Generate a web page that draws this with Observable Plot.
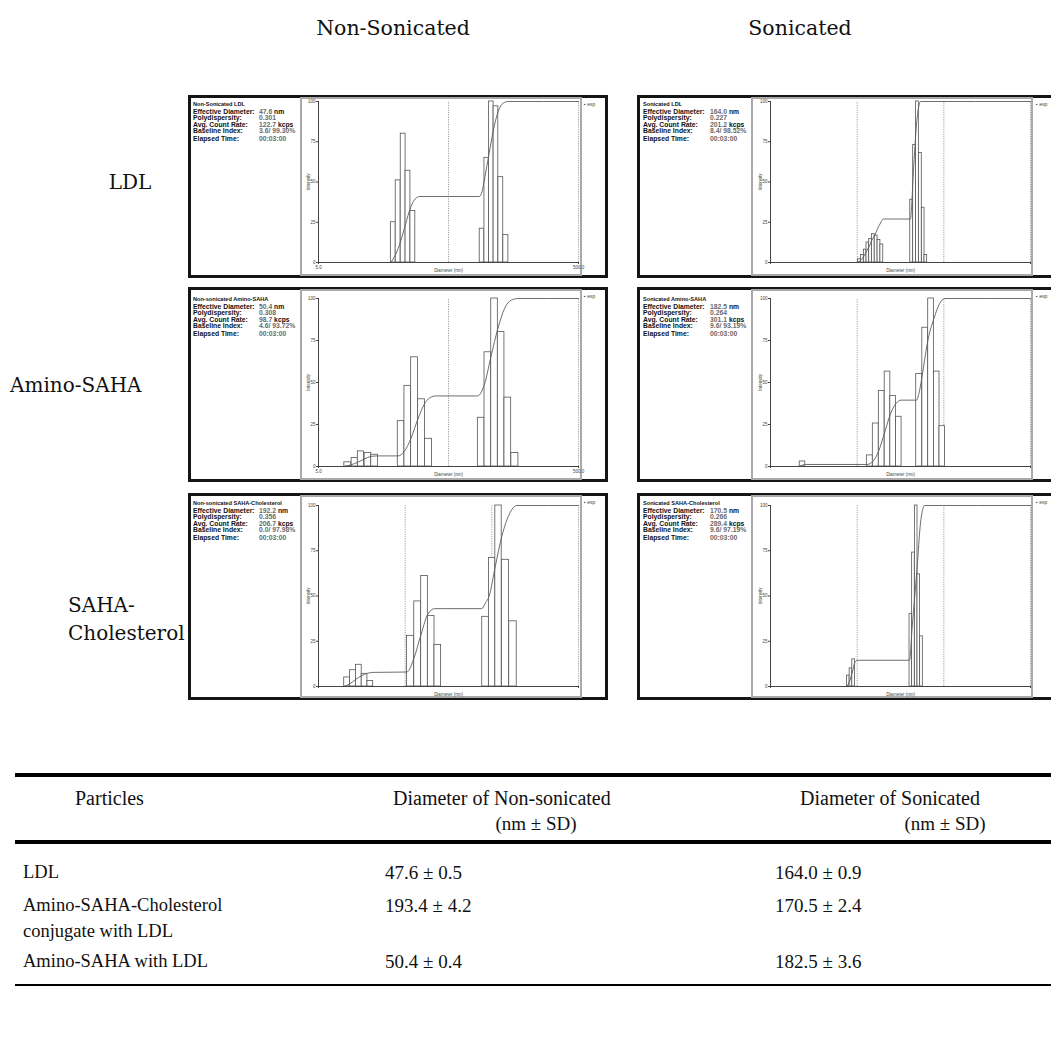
<!DOCTYPE html>
<html><head><meta charset="utf-8">
<script src="https://cdn.jsdelivr.net/npm/d3@7"></script>
<script src="https://cdn.jsdelivr.net/npm/@observablehq/plot@0.6"></script>
<style>
body{margin:0;width:1051px;height:1040px;position:relative;overflow:hidden;background:#fff;}
.hdr{position:absolute;font-family:"DejaVu Serif";font-size:20px;color:#111;white-space:nowrap;line-height:1}
.panel{position:absolute;border:3px solid #151515;box-sizing:border-box;background:#fff}
.frame{position:absolute;border:2px solid #a9a9a9;box-sizing:border-box;background:#fff}
.frame svg{position:absolute;left:0;top:0;overflow:visible}
.info{position:absolute;font-family:"Liberation Sans",Arial;font-weight:bold;font-size:6.8px;line-height:1;color:#111;white-space:nowrap}
.val{color:#6a6a6a}
.leg{position:absolute;font-family:"Liberation Sans",Arial;font-size:5px;color:#444;white-space:nowrap;line-height:1}
.tbl{position:absolute;font-family:"Liberation Serif";font-size:19px;color:#111;white-space:nowrap;line-height:1}
.rule{position:absolute;background:#000;left:15px;width:1036px}
</style></head><body>
<script>
// ---------- headings ----------
const colHeaders = ["Non-Sonicated", "Sonicated"];
const rowLabels = [["LDL"], ["Amino-SAHA"], ["SAHA-", "Cholesterol"]];

// ---------- instrument read-outs ----------
const panelTitles = ["Non-Sonicated LDL", "Sonicated LDL", "Non-sonicated Amino-SAHA", "Sonicated Amino-SAHA", "Non-sonicated SAHA-Cholesterol", "Sonicated SAHA-Cholesterol"];
const effDiam = ["47.6", "164.0", "50.4", "182.5", "192.2", "170.5"];
const polydisp = ["0.301", "0.227", "0.308", "0.264", "0.356", "0.266"];
const countRate = ["122.7", "201.2", "98.7", "301.1", "206.7", "289.4"];
const baselineIdx = ["3.6/ 99.30%", "8.4/ 98.52%", "4.6/ 93.72%", "9.6/ 93.19%", "0.0/ 97.98%", "9.6/ 97.19%"];
const elapsed = ["00:03:00", "00:03:00", "00:03:00", "00:03:00", "00:03:00", "00:03:00"];
const xMin = 5;
const xMax = [500, 5000, 500, 5000, 5000, 5000];
const decadeGrid = [50, 500, 5000];
const yTicks = [0, 25, 50, 75, 100];
const legendLabel = "esp";

// ---------- histogram bins: centre diameter (nm) and intensity ----------
const ldlNonD = [18.8, 20.5, 22.4, 24.4, 26.6, 90.6, 98.4, 106.7, 115.9, 126.3, 138.1];
const ldlNonI = [25, 51, 80, 57, 32, 21, 65, 100, 97, 53, 17];
const ldlSonD = [53.2, 57.4, 61.9, 66.4, 71.3, 76.8, 82.8, 89.3, 96.3, 213, 230, 248, 268, 289, 310];
const ldlSonI = [2, 4.6, 8, 12.4, 14.6, 17.6, 16.7, 14, 11.2, 39, 73, 100, 68, 34, 4.6];
const aminoNonD = [8.4, 9.5, 10.6, 12.0, 13.5, 21.6, 24.3, 27.4, 31.0, 35.1, 89.2, 100.4, 113, 127, 143, 162];
const aminoNonI = [2.5, 5, 9, 8, 7, 27, 48, 65, 40, 16.5, 29, 68, 100, 80, 41, 8];
const aminoSonD = [11.7, 70, 82, 96, 112, 130, 151, 260, 305, 356, 414, 480];
const aminoSonI = [3, 6.6, 25.6, 45, 56.5, 42, 29.6, 55, 82.6, 100, 56.5, 24];
const cholNonD = [10.7, 12.5, 14.6, 17.0, 19.8, 57.6, 69.7, 83.6, 99.8, 119, 423, 504, 597, 719, 877];
const cholNonI = [5, 9, 12, 7, 3, 28, 47, 61, 39, 23, 38.5, 71, 100, 70, 36];
const cholSonD = [39.5, 42.4, 45.5, 208, 223, 240, 257, 276];
const cholSonI = [6, 10, 15, 40, 74, 100, 62, 27.7];

// ---------- cumulative distribution curves ----------
const ldlNonCumD = [18, 19.6, 21.4, 23.4, 25.5, 27.7, 30, 86, 90.6, 94.7, 102.3, 111.2, 120.8, 132, 144, 500];
const ldlNonCumV = [0, 5, 13, 24, 34, 39.5, 41, 41, 44, 52, 67, 83, 94, 99, 100, 100];
const ldlSonCumD = [51, 55, 60, 64, 69, 74, 80, 86, 93, 100, 206, 214, 222, 232, 242, 255, 270, 5000];
const ldlSonCumV = [0, 1.5, 4, 7, 10, 14, 17, 21, 24.5, 27, 27, 38, 55, 72, 86, 96, 100, 100];
const aminoNonCumD = [7.9, 8.9, 10, 11.3, 12.7, 14.3, 20.4, 22.9, 25.8, 29, 33.1, 37.2, 40, 84, 89, 94.6, 106.5, 119.8, 134.8, 151.7, 172, 500];
const aminoNonCumV = [0, 1, 2.5, 4.5, 6, 6.3, 6.3, 9, 17, 28, 38, 41.5, 42, 42, 44, 49, 66, 82, 94, 99, 100, 100];
const aminoSonCumD = [10.7, 12.75, 64.6, 75.8, 88.2, 103.5, 120.5, 140.2, 161.7, 241.5, 262, 281, 330, 384, 447, 515, 5000];
const aminoSonCumV = [0, 1.2, 1.2, 3, 9, 20, 31, 37.5, 39.5, 39.5, 45, 54, 76, 88, 97, 100, 100];
const cholNonCumD = [9.9, 11.5, 13.5, 15.7, 18.4, 21.4, 52.3, 63.5, 76.5, 91.3, 109, 130, 383, 420, 466, 546, 652, 792, 971, 5000];
const cholNonCumV = [0, 1.5, 4, 6, 7.3, 7.8, 8, 16, 29, 40, 43, 43, 43, 46, 50, 66, 83, 95, 100, 100];
const cholSonCumD = [38.2, 41, 44, 47.2, 50, 201, 215, 231, 248, 266, 286, 300, 5000];
const cholSonCumV = [0, 3, 8, 13.5, 14.5, 14.5, 32, 50, 68, 88, 98, 100, 100];

// ---------- table ----------
const tableHead = ["Particles", "Diameter of Non-sonicated", "Diameter of Sonicated"];
const tableUnit = "(nm \u00b1 SD)";
const particles = [["LDL"], ["Amino-SAHA-Cholesterol", "conjugate with LDL"], ["Amino-SAHA with LDL"]];
const nonSonMean = ["47.6", "193.4", "50.4"];
const nonSonSD = ["0.5", "4.2", "0.4"];
const sonMean = ["164.0", "170.5", "182.5"];
const sonSD = ["0.9", "2.4", "3.6"];

// ================= layout =================
const body = document.body;
function el(cls, html, css) {
  const d = document.createElement("div");
  d.className = cls; d.innerHTML = html;
  Object.assign(d.style, css);
  body.appendChild(d); return d;
}

// column headers
const colHdrX = [393, 800];
colHeaders.forEach((t, i) => {
  el("hdr", t, {left: colHdrX[i] + "px", top: "18px", transform: "translateX(-50%)", fontSize: "20.5px"});
});
// row labels
el("hdr", rowLabels[0][0], {left: "130px", top: "172px", transform: "translateX(-50%)"});
el("hdr", rowLabels[1][0], {left: "10px", top: "375px"});
el("hdr", rowLabels[2].join("<br>"), {left: "68px", top: "591px", lineHeight: "28px"});

const panelData = [
  [ldlNonD, ldlNonI, ldlNonCumD, ldlNonCumV],
  [ldlSonD, ldlSonI, ldlSonCumD, ldlSonCumV],
  [aminoNonD, aminoNonI, aminoNonCumD, aminoNonCumV],
  [aminoSonD, aminoSonI, aminoSonCumD, aminoSonCumV],
  [cholNonD, cholNonI, cholNonCumD, cholNonCumV],
  [cholSonD, cholSonI, cholSonCumD, cholSonCumV]
];

const rowGeom = [
  {top: 95, h: 183, fTop: 97, fH: 179, y100: 101, y0: 262, txt: 10},
  {top: 287, h: 195, fTop: 289, fH: 191, y100: 298, y0: 466, txt: 13},
  {top: 493, h: 207, fTop: 495, fH: 203, y100: 505, y0: 686, txt: 11}
];
const colGeom = [
  {left: 188, w: 420, fLeft: 300, fW: 282, axL: 318, axR: 578, legX: 584, txtX: 193, valX: 259},
  {left: 637, w: 430, fLeft: 751, fW: 282, axL: 770, axR: 1030, legX: 1036, txtX: 643, valX: 710}
];

function binEdges(centres) {
  const L = centres.map(Math.log10);
  const gaps = d3.pairs(L, (a, b) => b - a);
  const typical = d3.min(gaps);
  return centres.map((c, i) => {
    const g = Math.min(i > 0 ? L[i] - L[i - 1] : Infinity, i < L.length - 1 ? L[i + 1] - L[i] : Infinity);
    const h = (g > typical * 1.6 ? typical : g) / 2;
    return {x1: 10 ** (L[i] - h), x2: 10 ** (L[i] + h)};
  });
}

panelData.forEach(([D, I, CD, CV], k) => {
  const row = Math.floor(k / 2), col = k % 2;
  const rg = rowGeom[row], cg = colGeom[col];
  el("panel", "", {left: cg.left + "px", top: rg.top + "px", width: cg.w + "px", height: rg.h + "px"});
  // info block
  const lines = [
    ["Effective Diameter:", `<span class="val">${effDiam[k]}</span> nm`],
    ["Polydispersity:", `<span class="val">${polydisp[k]}</span>`],
    ["Avg. Count Rate:", `<span class="val">${countRate[k]}</span> kcps`],
    ["Baseline Index:", `<span class="val">${baselineIdx[k]}</span>`],
    ["Elapsed Time:", `<span class="val">${elapsed[k]}</span>`]
  ];
  const offs = [6.5, 12.5, 20, 26, 34];
  const y0t = rg.top + rg.txt;
  el("info", panelTitles[k], {left: cg.txtX + "px", top: (y0t - 3) + "px", fontSize: "5.6px"});
  lines.forEach(([lab, val], j) => {
    el("info", lab, {left: cg.txtX + "px", top: (y0t + offs[j] - 3) + "px"});
    el("info", val, {left: cg.valX + "px", top: (y0t + offs[j] - 3) + "px"});
  });
  el("leg", "\u25aa " + legendLabel, {left: cg.legX + "px", top: (rg.fTop + 5) + "px"});

  // plot frame
  const frame = el("frame", "", {left: cg.fLeft + "px", top: rg.fTop + "px", width: cg.fW + "px", height: rg.fH + "px"});
  const innerL = cg.fLeft + 2, innerT = rg.fTop + 2, W = cg.fW - 4, H = rg.fH - 4;
  const bins = binEdges(D).map((b, i) => ({...b, y: I[i]}));
  const cum = CD.map((d, i) => ({d, v: CV[i]}));
  const grid = decadeGrid.filter(g => g > xMin && g <= xMax[k]);
  const chart = Plot.plot({
    width: W, height: H,
    marginLeft: cg.axL - innerL, marginRight: innerL + W - cg.axR,
    marginTop: rg.y100 - innerT, marginBottom: innerT + H - rg.y0,
    style: {fontFamily: "Liberation Sans, Arial", color: "#444", background: "white", overflow: "visible"},
    x: {type: "log", domain: [xMin, xMax[k]]},
    y: {domain: [0, 100]},
    marks: [
      Plot.ruleX(grid, {y1: 0, y2: 100, stroke: "#888", strokeDasharray: "1.2,1.2", strokeWidth: 0.8}),
      Plot.rectY(bins, {x1: "x1", x2: "x2", y1: 0, y2: "y", fill: "white", stroke: "#555", strokeWidth: 0.8}),
      Plot.line(cum, {x: "d", y: "v", curve: "monotone-x", stroke: "#5c5c5c", strokeWidth: 0.9}),
      Plot.ruleY([0], {stroke: "#444", strokeWidth: 1}),
      Plot.ruleX([xMin], {stroke: "#444", strokeWidth: 1}),
      Plot.axisX({ticks: [xMin, xMax[k]], tickFormat: d => d.toFixed(1), tickSize: 2, tickPadding: 1, fontSize: 4.5,
        label: "Diameter (nm)", labelAnchor: "center", labelArrow: "none", labelOffset: 9}),
      Plot.axisY({ticks: yTicks, tickSize: 2, tickPadding: 1, fontSize: 4.5,
        label: "Intensity", labelAnchor: "center", labelArrow: "none", labelOffset: 12})
    ]
  });
  frame.appendChild(chart);
});

// ================= table =================
el("rule", "", {top: "773px", height: "4px"});
el("rule", "", {top: "840px", height: "4px"});
el("rule", "", {top: "984px", height: "2px"});
const thX = [75, 393, 800];
tableHead.forEach((t, i) => el("tbl", t, {left: thX[i] + "px", top: "788px", fontSize: "20px"}));
const unitCx = [536, 945];
unitCx.forEach(cx => el("tbl", tableUnit, {left: cx + "px", top: "814px", transform: "translateX(-50%)"}));
const rowTop = [863, 896, 952];
particles.forEach((p, i) => {
  el("tbl", p.join("<br>"), {left: "23px", top: rowTop[i] + "px", lineHeight: "26px", marginTop: "-4px", fontSize: "18.5px"});
  el("tbl", `${nonSonMean[i]} \u00b1 ${nonSonSD[i]}`, {left: "385px", top: rowTop[i] + "px"});
  el("tbl", `${sonMean[i]} \u00b1 ${sonSD[i]}`, {left: "775px", top: rowTop[i] + "px"});
});
</script>
</body></html>
